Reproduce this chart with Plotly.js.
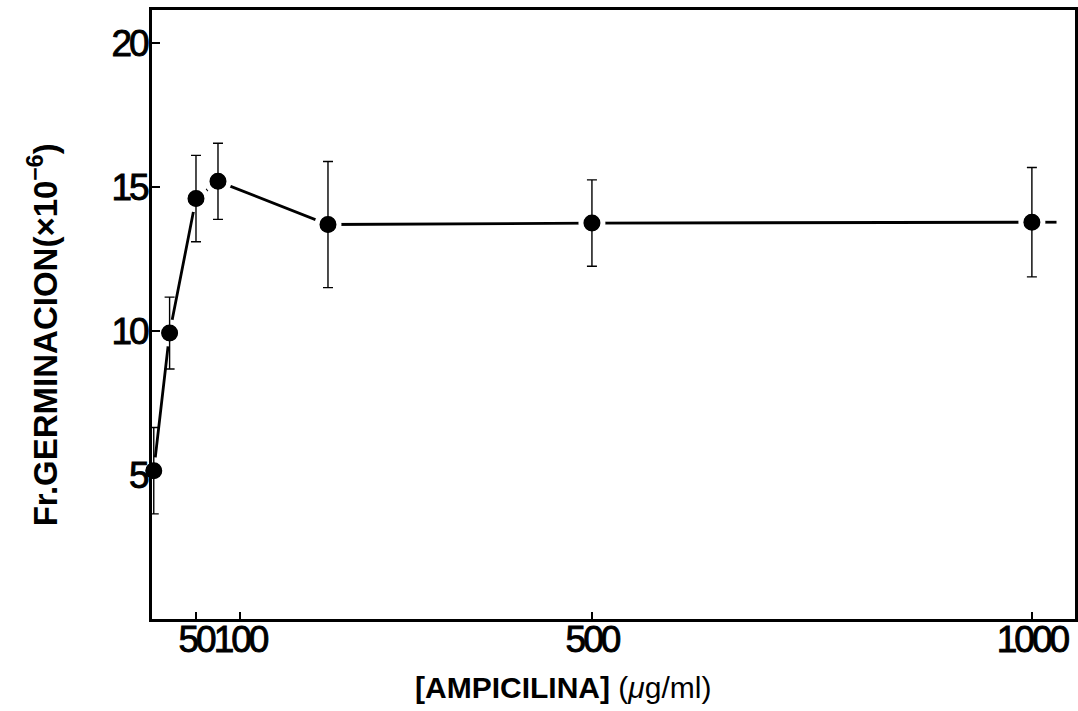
<!DOCTYPE html>
<html>
<head>
<meta charset="utf-8">
<script src="https://cdn.plot.ly/plotly-3.0.1.min.js"></script>
<style>
html,body{margin:0;padding:0;background:#fff;}
#chart{width:1078px;height:711px;}
#chart .xtick text, #chart .ytick text{letter-spacing:-3px; stroke:#000; stroke-width:0.9px;}
</style>
</head>
<body>
<div id="chart"></div>
<script>
// Data
const concentration = [2, 20, 50, 75, 200, 500, 1000];          // ampicilina (µg/ml)
const germination   = [5.15, 9.93, 14.6, 15.2, 13.7, 13.75, 13.78]; // Fr. germinación (×10^-6)
const errorBar      = [1.5, 1.25, 1.5, 1.32, 2.19, 1.5, 1.9];
const tailX = [1000, 1028];   // short continuation of the curve past the last point
const tailY = [13.78, 13.78];
const xTickVals = [50, 100, 500, 1000];
const xTickText = ['50', '100', '500', '1000'];
const yTickVals = [5, 10, 15, 20];
const yTickText = ['5', '10', '15', '20'];

const black = '#000';
const traces = [
  {x: concentration, y: germination, mode: 'lines', line: {color: black, width: 2.8}, cliponaxis: false, hoverinfo: 'skip'},
  {x: tailX, y: tailY, mode: 'lines', line: {color: black, width: 2.8}, cliponaxis: false, hoverinfo: 'skip'},
  {x: concentration, y: germination, mode: 'markers', cliponaxis: false,
   marker: {color: black, size: 22, line: {color: '#fff', width: 5}}},
  {x: concentration, y: germination, mode: 'markers', cliponaxis: false,
   marker: {color: black, size: 16},
   error_y: {type: 'data', array: errorBar, visible: true, color: black, thickness: 1.4, width: 5}}
];

const axisFont = {family: 'Liberation Sans, Arial, sans-serif', size: 37, color: black};
const layout = {
  width: 1078, height: 711,
  margin: {l: 152, r: 3, t: 10, b: 92},
  paper_bgcolor: '#fff', plot_bgcolor: '#fff',
  showlegend: false,
  xaxis: {
    range: [0, 1049], showgrid: false, zeroline: false, automargin: false,
    showline: true, linecolor: black, linewidth: 3, mirror: true,
    ticks: 'inside', ticklen: 7, tickwidth: 2, tickcolor: black, tickangle: 0,
    tickvals: xTickVals, ticktext: xTickText, tickfont: axisFont, ticklabeloverflow: 'allow',
    ticklabelstandoff: -14
  },
  yaxis: {
    range: [0, 21.15], showgrid: false, zeroline: false, automargin: false,
    showline: true, linecolor: black, linewidth: 3, mirror: true,
    ticks: 'inside', ticklen: 8, tickwidth: 2, tickcolor: black,
    tickvals: yTickVals, ticktext: yTickText, tickfont: axisFont,
    ticklabelstandoff: -5
  },
  annotations: [
    {text: '<b>[AMPICILINA]</b> (<i>μ</i>g/ml)', xref: 'paper', yref: 'paper', x: 0.445, y: -0.113,
     xanchor: 'center', yanchor: 'middle', showarrow: false,
     font: {family: 'Liberation Sans, Arial, sans-serif', size: 30, color: black}},
    {text: '<b>Fr.GERMINACION(×10<sup>−6</sup>)</b>', xref: 'paper', yref: 'paper', x: -0.118, y: 0.466,
     xanchor: 'center', yanchor: 'middle', showarrow: false, textangle: -90,
     font: {family: 'Liberation Sans, Arial, sans-serif', size: 33, color: black}}
  ]
};

Plotly.newPlot('chart', traces, layout, {staticPlot: true, displayModeBar: false});
</script>
</body>
</html>
